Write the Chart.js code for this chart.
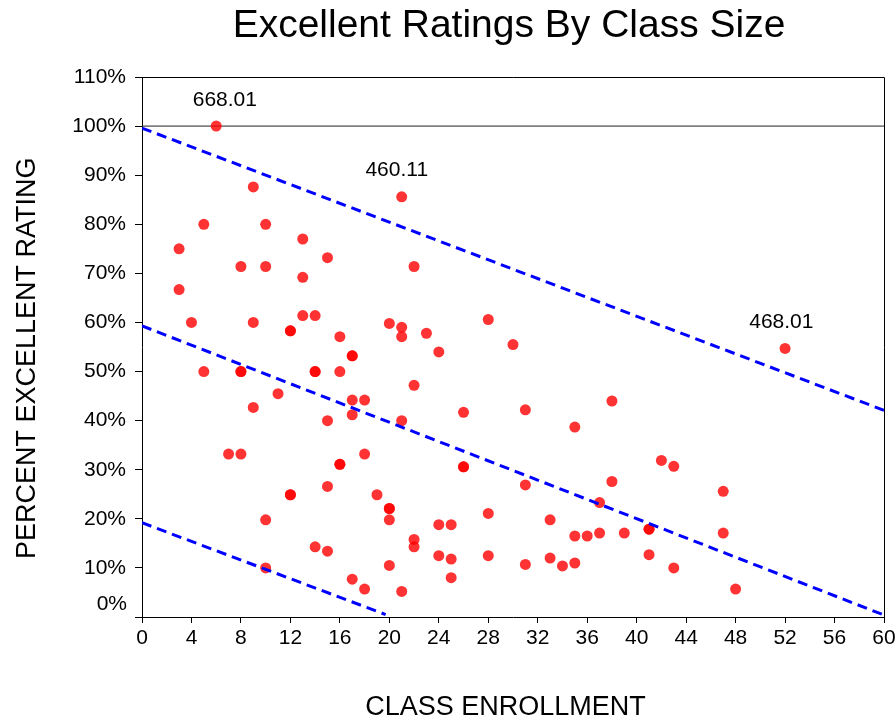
<!DOCTYPE html>
<html>
<head>
<meta charset="utf-8">
<title>Excellent Ratings By Class Size</title>
<script src="https://cdn.jsdelivr.net/npm/chart.js@4.4.1/dist/chart.umd.min.js"></script>
<style>
  html, body { margin: 0; padding: 0; background: #fff; }
  #wrap { width: 896px; height: 721px; }
</style>
</head>
<body>
<div id="wrap"><canvas id="ratingsChart" width="896" height="721"></canvas></div>
<script>
// class enrollment and % excellent, one entry per class (repeats = overlapping classes)
const classSize = [
  3, 3, 4, 5, 5, 6, 7, 8, 8, 8, 8, 9, 9, 9,
  10, 10, 10, 10, 11, 12, 12, 12, 12, 13, 13, 13,
  14, 14, 14, 14, 15, 15, 15, 15, 16, 16, 16, 16,
  17, 17, 17, 17, 17, 18, 18, 18, 19,
  20, 20, 20, 20, 20, 21, 21, 21, 21, 21, 22, 22, 22, 22,
  23, 24, 24, 24, 25, 25, 25, 26, 26, 26, 28, 28, 28, 30,
  31, 31, 31, 33, 33, 34, 35, 35, 35, 36, 37, 37, 38, 38, 39,
  41, 41, 41, 42, 43, 43, 47, 47, 48, 52
];
const excellentPct = [
  75, 66.7, 60, 80, 50, 100, 33.2, 71.4, 50, 50, 33.2, 87.6, 60, 42.7,
  80, 71.4, 19.8, 10, 45.5, 58.3, 58.3, 24.9, 24.9, 77, 69.2, 61.4,
  61.4, 50, 50, 14.3, 73.2, 40, 26.6, 13.4, 57.1, 50, 31.1, 31.1,
  53.2, 53.2, 44.2, 41.2, 7.7, 44.2, 33.2, 5.7, 24.9,
  59.8, 22.1, 22.1, 19.8, 10.5, 85.6, 59, 57.1, 40, 5.2, 71.4, 47.2, 15.8, 14.3,
  57.8, 54, 18.8, 12.5, 18.8, 11.8, 8, 41.7, 30.6, 30.6, 60.6, 21.1, 12.5, 55.5,
  42.2, 26.9, 10.7, 19.8, 12, 10.4, 38.7, 16.5, 11, 16.5, 23.3, 17.1, 44, 27.6, 17.1,
  17.9, 17.9, 12.7, 31.9, 30.7, 10, 25.6, 17.1, 5.7, 54.7
];

// fitted line and its upper / lower limits (endpoints)
const upperX = [0, 60];
const upperY = [99.6, 42.1];
const fitX = [0, 60];
const fitY = [59.3, 0.4];
const lowerX = [0, 19.7];
const lowerY = [19.2, 0.5];

// 100% reference line
const refX = [0, 60];
const refY = [100, 100];

// labelled outliers
const noteX = [6.7, 20.6, 51.7];
const noteY = [105.2, 91.1, 60.1];
const noteText = ['668.01', '460.11', '468.01'];

const chartTitle = 'Excellent Ratings By Class Size';
const fontFamily = '"Liberation Sans", Arial, sans-serif';

const toPoints = (xs, ys) => xs.map((x, i) => ({ x: x, y: ys[i] }));

const dashed = {
  type: 'line',
  borderColor: '#0000ff',
  borderWidth: 3,
  borderDash: [10, 6],
  pointRadius: 0,
  fill: false,
  order: 0
};

const extras = {
  id: 'extras',
  afterDraw(chart) {
    const { ctx, chartArea, scales } = chart;
    const xs = scales.x, ys = scales.y;
    ctx.save();

    // box top and right
    ctx.strokeStyle = '#000';
    ctx.lineWidth = 1;
    ctx.beginPath();
    ctx.moveTo(chartArea.left, chartArea.top + 0.5);
    ctx.lineTo(chartArea.right + 0.5, chartArea.top + 0.5);
    ctx.lineTo(chartArea.right + 0.5, chartArea.bottom);
    ctx.stroke();

    ctx.fillStyle = '#000';

    // title, centred over the plot
    ctx.font = '39px ' + fontFamily;
    ctx.textAlign = 'center';
    ctx.textBaseline = 'alphabetic';
    ctx.fillText(chartTitle, (chartArea.left + chartArea.right) / 2 - 4, 37);

    // 0% label sits a bit above its tick
    ctx.font = '21px ' + fontFamily;
    ctx.textAlign = 'right';
    ctx.textBaseline = 'middle';
    ctx.fillText('0%', ys.right - 7 - 8, ys.getPixelForValue(0) - 13);

    // outlier labels
    ctx.textAlign = 'center';
    noteText.forEach((t, i) => {
      ctx.fillText(t, xs.getPixelForValue(noteX[i]), ys.getPixelForValue(noteY[i]));
    });
    ctx.restore();
  }
};

new Chart(document.getElementById('ratingsChart'), {
  type: 'scatter',
  data: {
    datasets: [
      Object.assign({ label: 'Upper', data: toPoints(upperX, upperY) }, dashed),
      Object.assign({ label: 'Fit', data: toPoints(fitX, fitY) }, dashed),
      Object.assign({ label: 'Lower', data: toPoints(lowerX, lowerY) }, dashed),
      {
        type: 'line',
        label: '100%',
        data: toPoints(refX, refY),
        borderColor: '#222',
        borderWidth: 1,
        pointRadius: 0,
        fill: false,
        order: 2
      },
      {
        label: 'Classes',
        data: toPoints(classSize, excellentPct),
        backgroundColor: 'rgba(255, 0, 0, 0.8)',
        borderWidth: 0,
        pointRadius: 5.5,
        order: 1
      }
    ]
  },
  options: {
    responsive: false,
    animation: false,
    layout: { padding: { top: 77, right: 0, left: 0, bottom: 0 } },
    plugins: {
      legend: { display: false },
      tooltip: { enabled: false },
      title: { display: false }
    },
    scales: {
      x: {
        type: 'linear',
        min: 0,
        max: 60,
        afterFit: s => {
          s.height = 104;
          s.paddingLeft = 0;
          s.paddingRight = 12;
        },
        border: { color: '#000', width: 1 },
        grid: { drawOnChartArea: false, color: '#000', tickLength: 6 },
        ticks: {
          stepSize: 4,
          autoSkip: false,
          maxRotation: 0,
          padding: 3,
          color: '#000',
          font: { size: 21, family: fontFamily }
        },
        title: {
          display: true,
          text: 'CLASS ENROLLMENT  ',
          color: '#000',
          font: { size: 27, family: fontFamily, lineHeight: 1 },
          padding: 0
        }
      },
      y: {
        type: 'linear',
        min: 0,
        max: 110,
        afterFit: s => { s.width = 142; },
        border: { color: '#000', width: 1 },
        grid: { drawOnChartArea: false, color: '#000', tickLength: 7 },
        ticks: {
          stepSize: 10,
          padding: 9,
          color: '#000',
          font: { size: 21, family: fontFamily },
          callback: v => (v === 0 ? '' : v + '%')
        },
        title: {
          display: true,
          // trailing spaces nudge the text down a little, like the original
          text: 'PERCENT EXCELLENT RATING   ',
          color: '#000',
          font: { size: 27, family: fontFamily, lineHeight: 1 },
          padding: { top: 14, bottom: 0 }
        }
      }
    }
  },
  plugins: [extras]
});
</script>
</body>
</html>
